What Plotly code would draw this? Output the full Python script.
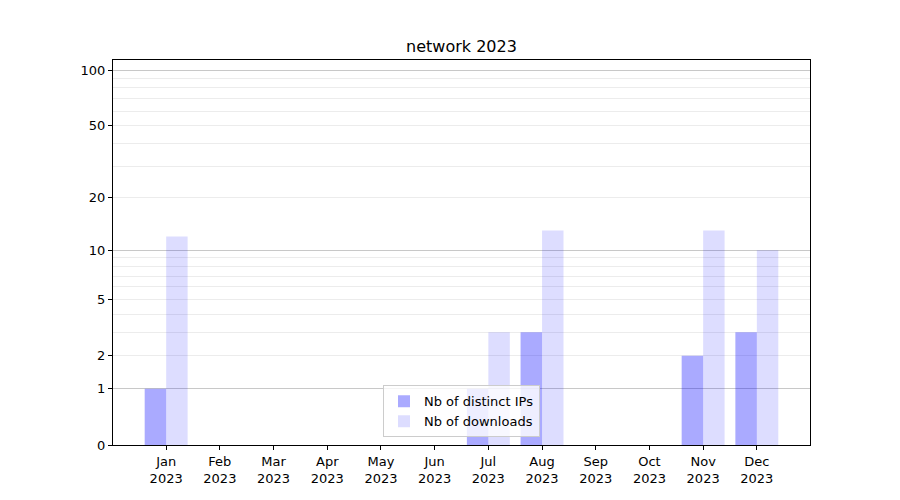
import plotly.graph_objects as go

months = ["Jan", "Feb", "Mar", "Apr", "May", "Jun", "Jul", "Aug", "Sep", "Oct", "Nov", "Dec"]
year = "2023"
distinct_ips = [1, 0, 0, 0, 0, 0, 1, 3, 0, 0, 2, 3]
downloads = [12, 0, 0, 0, 0, 0, 3, 13, 0, 0, 13, 10]
y_tick_values = [0, 1, 2, 5, 10, 20, 50, 100]
y_minor_values = [2, 3, 4, 5, 6, 7, 8, 9, 20, 30, 40, 50, 60, 70, 80, 90]
y_major_grid = [0, 1, 10, 100]

x = list(range(len(months)))
xlabels = [f"{m}<br>{year}" for m in months]

fig = go.Figure()
fig.add_trace(go.Bar(x=x, y=distinct_ips, base=1, name="Nb of distinct IPs",
                     marker=dict(color="rgba(0,0,255,0.333)", line=dict(width=0))))
fig.add_trace(go.Bar(x=x, y=downloads, base=1, name="Nb of downloads",
                     marker=dict(color="rgba(0,0,255,0.135)", line=dict(width=0))))
# invisible helper trace so the labelled overlay axis is drawn
fig.add_trace(go.Scatter(x=[x[0]], y=[1], yaxis="y2", mode="markers",
                         marker=dict(opacity=0), showlegend=False, hoverinfo="skip"))

fig.update_layout(
    width=900, height=500,
    paper_bgcolor="white", plot_bgcolor="white",
    margin=dict(l=105, r=98, t=52, b=63, autoexpand=False),
    barmode="group", bargap=0.2, bargroupgap=0,
    font=dict(family="DejaVu Sans", size=13, color="black"),
    title=dict(text="network 2023", x=0.5, xref="paper", y=1 - 38 / 500, yref="container",
               xanchor="center", yanchor="middle", font=dict(size=16)),
    legend=dict(x=0.5, y=0.02, xanchor="center", yanchor="bottom",
                bgcolor="rgba(255,255,255,0.8)", bordercolor="#cccccc", borderwidth=1,
                font=dict(size=13)),
)
fig.update_xaxes(range=[-0.99, 11.99], tickvals=x, ticktext=xlabels,
                 showgrid=False, zeroline=False, showline=True, mirror=True,
                 linecolor="black", linewidth=1, ticks="outside", ticklen=4,
                 tickcolor="black")
fig.update_layout(
    yaxis=dict(type="log", range=[0, 2.058],
               tickvals=[1 + v for v in y_major_grid], showticklabels=False, ticks="",
               showgrid=True, gridcolor="#c8c8c8", gridwidth=1,
               zeroline=False, showline=True, mirror=True,
               linecolor="black", linewidth=1,
               minor=dict(tickvals=[1 + v for v in y_minor_values], showgrid=True,
                          gridcolor="#ececec", gridwidth=1, ticks="")),
    yaxis2=dict(type="log", range=[0, 2.058], overlaying="y", side="left",
                tickvals=[1 + v for v in y_tick_values],
                ticktext=[str(v) for v in y_tick_values],
                showgrid=False, zeroline=False, showline=False,
                ticks="outside", ticklen=4, tickcolor="black"),
)

fig.write_html("out.html")
